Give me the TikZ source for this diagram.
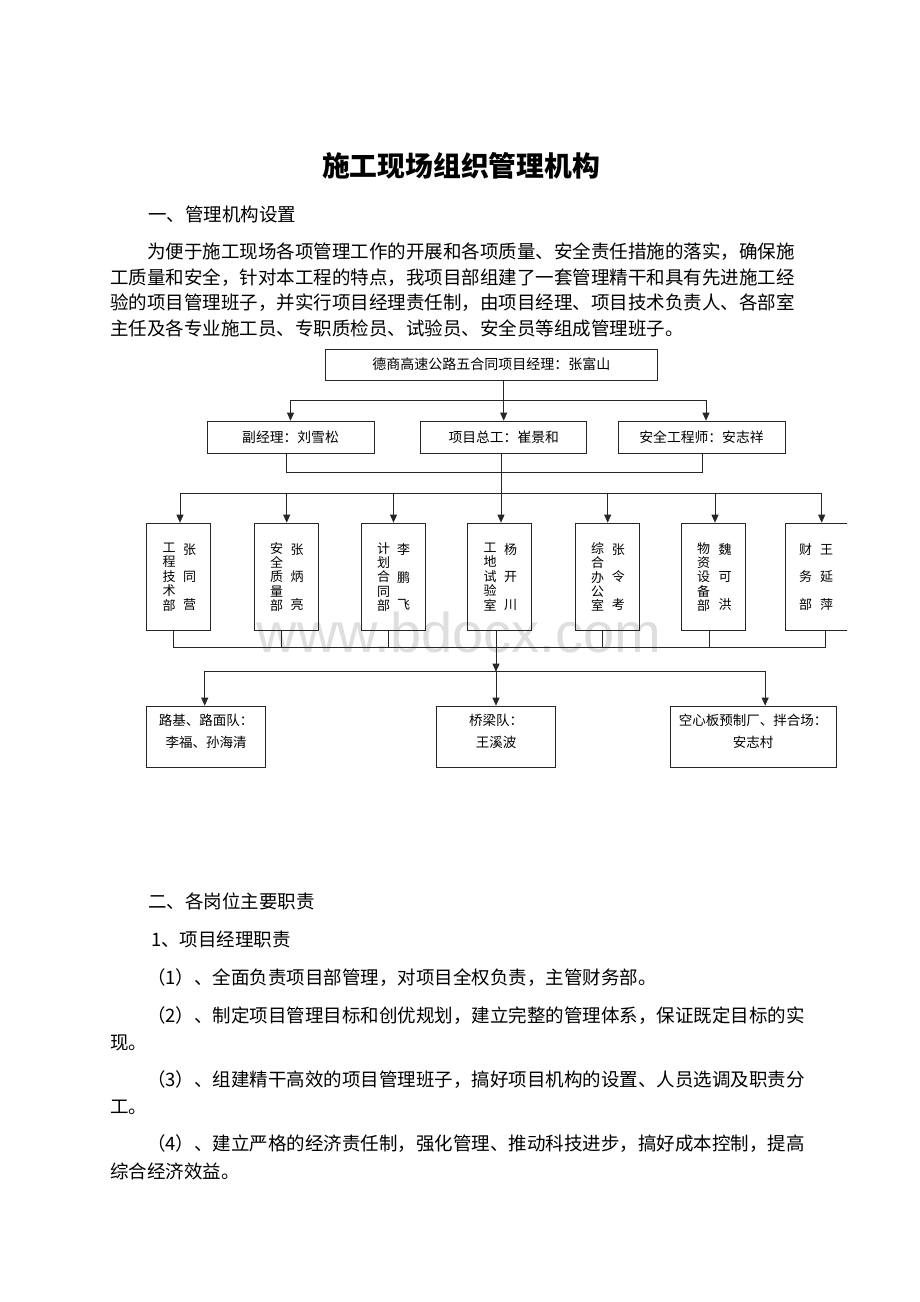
\documentclass[tikz,border=0pt]{standalone}
\usepackage{fontspec}
\setmainfont{Liberation Serif}
\newfontfamily\cjk{Noto Sans CJK SC}
\newfontfamily\wmfont{Liberation Sans}
\usetikzlibrary{arrows.meta}
\tikzset{
  ln/.style={draw=black!85, line width=0.7pt},
  arr/.style={ln, -{Triangle[length=8pt,width=7pt]}},
  box/.style={draw=black!85, line width=0.7pt, rectangle, inner sep=0pt},
  body/.style={font=\cjk\fontsize{18.5}{22}\selectfont, anchor=west, inner sep=0pt},
  boxtxt/.style={font=\cjk\fontsize{13.8}{16}\selectfont, inner sep=0pt},
  colA/.style={font=\cjk\fontsize{13}{14.4}\selectfont, align=center, inner sep=0pt},
  colB/.style={font=\cjk\fontsize{13}{27.5}\selectfont, align=center, inner sep=0pt},
  teamtxt/.style={font=\cjk\fontsize{13.5}{22}\selectfont, align=center, inner sep=0pt},
}
\begin{document}
\begin{tikzpicture}[x=1pt,y=-1pt]
\fill[white] (0,0) rectangle (920,1302);
\useasboundingbox (0,0) rectangle (920,1302);

% watermark
\node[font=\wmfont\fontsize{56}{56}\selectfont, text=black!13, anchor=base, inner sep=0pt] (wm) at (459,652) {www.bdocx.com};

% title and text
\node[font=\cjk\bfseries\fontsize{27.8}{30}\selectfont, inner sep=0pt] (title) at (461,166) {施工现场组织管理机构};
\node[body] (s1) at (148,214) {一、管理机构设置};
\node[body] (p1) at (147,252) {为便于施工现场各项管理工作的开展和各项质量、安全责任措施的落实，确保施};
\node[body] (p2) at (110,278) {工质量和安全，针对本工程的特点，我项目部组建了一套管理精干和具有先进施工经};
\node[body] (p3) at (110,303) {验的项目管理班子，并实行项目经理责任制，由项目经理、项目技术负责人、各部室};
\node[body] (p4) at (110,328) {主任及各专业施工员、专职质检员、试验员、安全员等组成管理班子。};

\node[body] (s2) at (148,901) {二、各岗位主要职责};
\node[body] (s3) at (151,939) {1、项目经理职责};
\node[body] (q1) at (147,978) {（1）、全面负责项目部管理，对项目全权负责，主管财务部。};
\node[body] (q2) at (147,1016) {（2）、制定项目管理目标和创优规划，建立完整的管理体系，保证既定目标的实};
\node[body] (q2b) at (110,1043) {现。};
\node[body] (q3) at (147,1080) {（3）、组建精干高效的项目管理班子，搞好项目机构的设置、人员选调及职责分};
\node[body] (q3b) at (110,1107) {工。};
\node[body] (q4) at (147,1144) {（4）、建立严格的经济责任制，强化管理、推动科技进步，搞好成本控制，提高};
\node[body] (q4b) at (110,1171) {综合经济效益。};

% top box
\node[box, minimum width=332.7, minimum height=31, boxtxt] (top) at (491.35,364.5) {\fontsize{14}{16}\selectfont 德商高速公路五合同项目经理：张富山};

% second row
\node[box, minimum width=167, minimum height=32, boxtxt] (r1) at (290.5,437) {副经理：刘雪松};
\node[box, minimum width=166, minimum height=32, boxtxt] (r2) at (503.7,437) {项目总工：崔景和};
\node[box, minimum width=167, minimum height=32, boxtxt] (r3) at (701.5,437) {安全工程师：安志祥};

% departments
\node[box, minimum width=64, minimum height=107.7] (d1) at (178.7,576.85) {};
\node[box, minimum width=64, minimum height=107.7] (d2) at (286,576.85) {};
\node[box, minimum width=64, minimum height=107.7] (d3) at (393,576.85) {};
\node[box, minimum width=64, minimum height=107.7] (d4) at (499.7,576.85) {};
\node[box, minimum width=64, minimum height=107.7] (d5) at (607,576.85) {};
\node[box, minimum width=64, minimum height=107.7] (d6) at (713.7,576.85) {};
\begin{scope}
\clip (0,0) rectangle (847,1302);
\node[box, minimum width=80, minimum height=107.7] (d7) at (825,576.85) {};
\end{scope}

\node[colA] (d1a) at (169.2,577) {工\\程\\技\\术\\部};
\node[colB] (d1b) at (189.7,577) {张\\同\\营};
\node[colA] (d2a) at (276.5,577) {安\\全\\质\\量\\部};
\node[colB] (d2b) at (297,577) {张\\炳\\亮};
\node[colA] (d3a) at (383.5,577) {计\\划\\合\\同\\部};
\node[colB] (d3b) at (403.5,577) {李\\鹏\\飞};
\node[colA] (d4a) at (490.2,577) {工\\地\\试\\验\\室};
\node[colB] (d4b) at (510.7,577) {杨\\开\\川};
\node[colA] (d5a) at (597.5,577) {综\\合\\办\\公\\室};
\node[colB] (d5b) at (618.3,577) {张\\令\\考};
\node[colA] (d6a) at (703.5,577) {物\\资\\设\\备\\部};
\node[colB] (d6b) at (725,577) {魏\\可\\洪};
\node[colB] (d7a) at (805.5,577) {财\\务\\部};
\node[colB] (d7b) at (826.5,577) {王\\延\\萍};

% teams
\node[box, minimum width=119, minimum height=61.3] (t1) at (206.2,736.65) {};
\node[box, minimum width=119.5, minimum height=61.3] (t2) at (496,736.65) {};
\node[box, minimum width=165.7, minimum height=61.3] (t3) at (753.15,736.65) {};
\node[teamtxt] (t1t) at (206.2,731.7) {路基、路面队：\\李福、孙海清};
\node[teamtxt] (t2t) at (496,731.7) {桥梁队：\\王溪波};
\node[teamtxt] (t3t) at (753.15,731.7) {空心板预制厂、拌合场：\\安志村};

% connectors: top -> second row
\coordinate (bus1) at (503.7,400);
\draw[arr] (top.south -| r2) -- (r2.north);
\draw[arr] (bus1) -| (r1.north);
\draw[arr] (bus1) -| ([xshift=4.5]r3.north);

% second row -> departments
\coordinate (bus2) at (501,472.7);
\draw[ln] ([xshift=-3.8]r1.south) |- (bus2) -| ([xshift=1.2]r3.south);
\draw[ln] ([xshift=-2.7]r2.south) -- (bus2);
\draw[arr] (bus2) -- (bus2 |- d4.north);
\coordinate (bus3) at (501,493.3);
\draw[arr] (bus3) -| ([xshift=1.3]d1.north);
\draw[arr] (bus3) -| ([xshift=0.7]d2.north);
\draw[arr] (bus3) -| ([xshift=0.5]d3.north);
\draw[arr] (bus3) -| ([xshift=0.7]d5.north);
\draw[arr] (bus3) -| ([xshift=1.3]d6.north);
\draw[arr] (bus3) -| ([xshift=-3.3]d7.north);

% departments -> teams
\coordinate (bus4) at (496,647.5);
\draw[ln] ([xshift=-5.4]d1.south) |- (d7.south |- bus4) -- (d7.south);
\draw[ln] ([xshift=-4.3]d2.south) -- ([xshift=-4.3]d2.south |- bus4);
\draw[ln] ([xshift=-4.7]d3.south) -- ([xshift=-4.7]d3.south |- bus4);
\draw[ln] ([xshift=-4.7]d5.south) -- ([xshift=-4.7]d5.south |- bus4);
\draw[ln] ([xshift=-4.4]d6.south) -- ([xshift=-4.4]d6.south |- bus4);
\coordinate (bus5) at (496,671.7);
\draw[arr] ([xshift=-3.7]d4.south) -- (bus5);
\draw[arr] (bus5) -| ([xshift=-1.5]t1.north);
\draw[arr] (bus5) -- (t2.north);
\draw[arr] (bus5) -| ([xshift=12]t3.north);
\end{tikzpicture}
\end{document}
